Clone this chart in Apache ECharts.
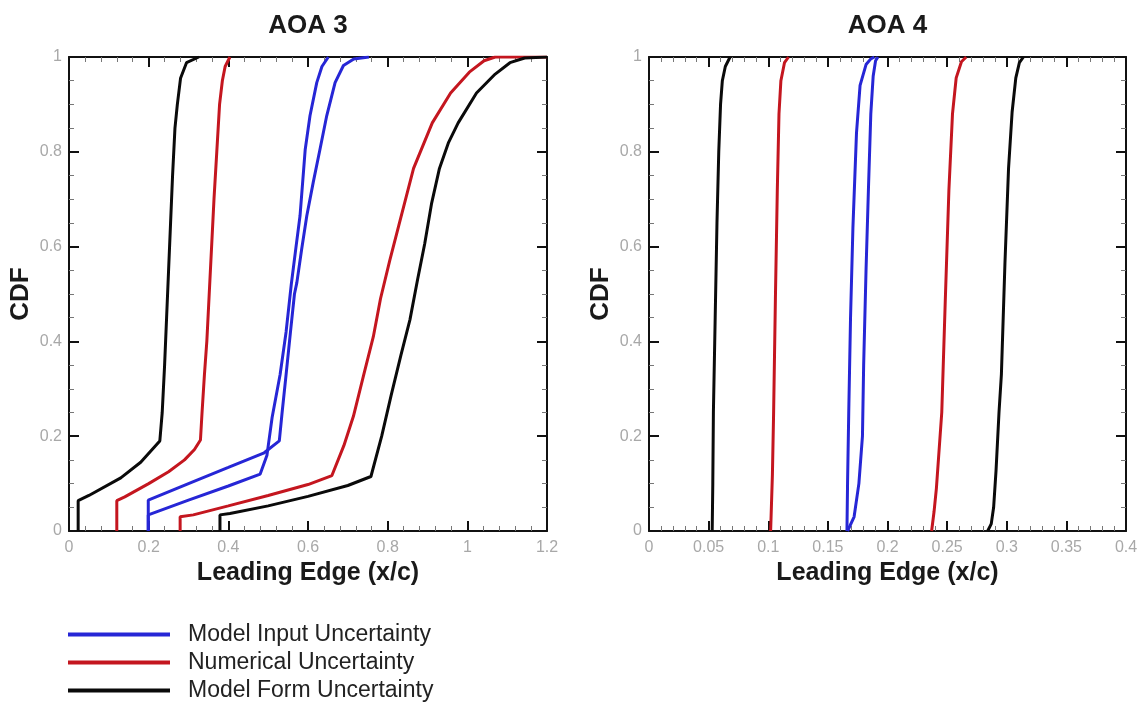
<!DOCTYPE html>
<html>
<head>
<meta charset="utf-8">
<script src="https://cdn.jsdelivr.net/npm/echarts@6/dist/echarts.min.js"></script>
<style>
html,body{margin:0;padding:0;background:#fff;}
#chart{width:1146px;height:704px;}
</style>
</head>
<body>
<div id="chart"></div>
<script>
// ---------- Titles / labels ----------
const panelTitles = ['AOA 3', 'AOA 4'];
const xAxisName = 'Leading Edge (x/c)';
const yAxisName = 'CDF';
const seriesNames = ['Model Input Uncertainty', 'Numerical Uncertainty', 'Model Form Uncertainty'];

// ---------- AOA 3 curves [x/c, CDF] ----------
const aoa3InputA = [[0.199,0],[0.199,0.034],[0.3,0.065],[0.4,0.095],[0.48,0.12],[0.497,0.16],[0.51,0.24],[0.53,0.33],[0.545,0.42],[0.558,0.52],[0.57,0.6],[0.58,0.665],[0.587,0.74],[0.593,0.805],[0.605,0.876],[0.622,0.946],[0.635,0.98],[0.651,1.0]];
const aoa3InputB = [[0.199,0],[0.199,0.065],[0.3,0.1],[0.4,0.134],[0.49,0.165],[0.528,0.19],[0.535,0.25],[0.545,0.33],[0.556,0.42],[0.566,0.5],[0.572,0.524],[0.584,0.594],[0.597,0.665],[0.613,0.735],[0.63,0.805],[0.647,0.876],[0.668,0.946],[0.689,0.982],[0.715,0.996],[0.753,1.0]];
const aoa3NumA = [[0.12,0],[0.12,0.064],[0.14,0.072],[0.2,0.1],[0.25,0.125],[0.29,0.15],[0.315,0.172],[0.33,0.192],[0.334,0.25],[0.34,0.33],[0.346,0.4],[0.352,0.5],[0.358,0.6],[0.364,0.7],[0.371,0.8],[0.378,0.9],[0.385,0.95],[0.392,0.98],[0.404,1.0]];
const aoa3NumB = [[0.279,0],[0.279,0.03],[0.312,0.034],[0.4,0.053],[0.5,0.075],[0.6,0.098],[0.66,0.117],[0.69,0.18],[0.714,0.242],[0.74,0.33],[0.764,0.41],[0.782,0.49],[0.805,0.57],[0.828,0.645],[0.865,0.765],[0.912,0.861],[0.958,0.924],[1.005,0.968],[1.042,0.992],[1.07,1.0],[1.2,1.0]];
const aoa3FormA = [[0.023,0],[0.023,0.064],[0.05,0.075],[0.13,0.112],[0.18,0.145],[0.228,0.19],[0.234,0.25],[0.24,0.35],[0.245,0.45],[0.25,0.55],[0.255,0.65],[0.26,0.75],[0.266,0.85],[0.272,0.9],[0.28,0.955],[0.295,0.988],[0.326,1.0]];
const aoa3FormB = [[0.379,0],[0.379,0.034],[0.404,0.037],[0.5,0.053],[0.6,0.073],[0.7,0.096],[0.758,0.115],[0.785,0.2],[0.809,0.287],[0.833,0.37],[0.856,0.446],[0.875,0.53],[0.893,0.606],[0.91,0.69],[0.93,0.765],[0.953,0.82],[0.977,0.861],[1.023,0.924],[1.07,0.964],[1.107,0.988],[1.144,0.998],[1.2,1.0]];

// ---------- AOA 4 curves [x/c, CDF] ----------
const aoa4InputA = [[0.166,0],[0.1665,0.1],[0.1675,0.25],[0.169,0.45],[0.171,0.64],[0.174,0.84],[0.177,0.94],[0.182,0.984],[0.186,0.996],[0.189,1.0]];
const aoa4InputB = [[0.1665,0],[0.172,0.03],[0.176,0.1],[0.179,0.2],[0.18,0.35],[0.182,0.55],[0.184,0.72],[0.186,0.88],[0.188,0.96],[0.19,0.992],[0.192,1.0]];
const aoa4NumA = [[0.102,0],[0.1035,0.12],[0.1045,0.25],[0.106,0.49],[0.1076,0.72],[0.109,0.88],[0.1106,0.95],[0.1136,0.988],[0.117,1.0]];
const aoa4NumB = [[0.237,0],[0.239,0.04],[0.241,0.09],[0.2455,0.25],[0.2485,0.49],[0.2515,0.72],[0.2545,0.88],[0.2576,0.956],[0.262,0.99],[0.266,1.0]];
const aoa4FormA = [[0.053,0],[0.0535,0.1],[0.054,0.25],[0.0555,0.45],[0.057,0.65],[0.0585,0.8],[0.06,0.9],[0.0615,0.95],[0.064,0.98],[0.068,1.0]];
const aoa4FormB = [[0.284,0],[0.287,0.015],[0.289,0.05],[0.291,0.127],[0.2935,0.25],[0.2955,0.33],[0.2985,0.566],[0.3015,0.765],[0.3045,0.884],[0.3076,0.956],[0.3106,0.988],[0.314,1.0]];

// ---------- Axis ranges ----------
const xRange3 = {min: 0, max: 1.2, interval: 0.2};
const xRange4 = {min: 0, max: 0.4, interval: 0.05};
const yRange = {min: 0, max: 1, interval: 0.2};

const colors = {input: '#2626d6', num: '#c4161f', form: '#0a0a0a'};
const FONT = '"Liberation Sans", Arial, Helvetica, sans-serif';

const chart = echarts.init(document.getElementById('chart'), null, {renderer: 'canvas'});

function xAxisPair(gridIndex, range, title) {
  const common = {
    type: 'value', gridIndex: gridIndex,
    min: range.min, max: range.max, interval: range.interval,
    axisLine: {show: true, onZero: false, lineStyle: {color: '#111', width: 2}},
    axisTick: {show: true, inside: true, length: 10, lineStyle: {color: '#111', width: 2}},
    minorTick: {show: true, splitNumber: 5, length: 5, lineStyle: {color: '#777', width: 1}},
    splitLine: {show: false}, minorSplitLine: {show: false}
  };
  return [
    Object.assign({}, common, {
      position: 'bottom',
      axisLabel: {color: '#a8a8a8', fontSize: 16, fontFamily: FONT, margin: 9},
      name: xAxisName, nameLocation: 'middle', nameGap: 29,
      nameTextStyle: {color: '#1a1a1a', fontSize: 25, fontWeight: 'bold', fontFamily: FONT}
    }),
    Object.assign({}, common, {
      position: 'top',
      axisLabel: {show: false},
      name: title, nameLocation: 'middle', nameGap: 18,
      nameTextStyle: {color: '#1a1a1a', fontSize: 26, fontWeight: 'bold', fontFamily: FONT}
    })
  ];
}
function yAxisPair(gridIndex) {
  const common = {
    type: 'value', gridIndex: gridIndex,
    min: yRange.min, max: yRange.max, interval: yRange.interval,
    axisLine: {show: true, onZero: false, lineStyle: {color: '#111', width: 2}},
    axisTick: {show: true, inside: true, length: 10, lineStyle: {color: '#111', width: 2}},
    minorTick: {show: true, splitNumber: 4, length: 5, lineStyle: {color: '#777', width: 1}},
    splitLine: {show: false}, minorSplitLine: {show: false}
  };
  return [
    Object.assign({}, common, {
      position: 'left',
      axisLabel: {color: '#a8a8a8', fontSize: 16, fontFamily: FONT, margin: 7},
      name: yAxisName, nameLocation: 'middle', nameGap: 35,
      nameTextStyle: {color: '#1a1a1a', fontSize: 26, fontWeight: 'bold', fontFamily: FONT}
    }),
    Object.assign({}, common, {position: 'right', axisLabel: {show: false}})
  ];
}

function line(name, color, data, xi, yi) {
  return {
    type: 'line', name: name, data: data,
    xAxisIndex: xi, yAxisIndex: yi,
    showSymbol: false, symbol: 'none', smooth: false,
    lineStyle: {color: color, width: 3}, itemStyle: {color: color},
    animation: false, silent: true
  };
}

const xAxes = [].concat(xAxisPair(0, xRange3, panelTitles[0]), xAxisPair(1, xRange4, panelTitles[1]));
const yAxes = [].concat(yAxisPair(0), yAxisPair(1));

const option = {
  animation: false,
  backgroundColor: '#ffffff',
  grid: [
    {left: 69, top: 57, width: 478, height: 474, containLabel: false},
    {left: 649, top: 57, width: 477, height: 474, containLabel: false}
  ],
  xAxis: xAxes,
  yAxis: yAxes,
  legend: {
    orient: 'vertical', left: 68, top: 623, padding: 0,
    itemWidth: 102, itemHeight: 4, itemGap: 5, icon: 'rect',
    data: seriesNames,
    textStyle: {color: '#222', fontSize: 23, fontFamily: FONT, padding: [0, 0, 0, 13]}
  },
  series: [
    line(seriesNames[0], colors.input, aoa3InputA, 0, 0),
    line(seriesNames[0], colors.input, aoa3InputB, 0, 0),
    line(seriesNames[1], colors.num, aoa3NumA, 0, 0),
    line(seriesNames[1], colors.num, aoa3NumB, 0, 0),
    line(seriesNames[2], colors.form, aoa3FormA, 0, 0),
    line(seriesNames[2], colors.form, aoa3FormB, 0, 0),
    line(seriesNames[0], colors.input, aoa4InputA, 2, 2),
    line(seriesNames[0], colors.input, aoa4InputB, 2, 2),
    line(seriesNames[1], colors.num, aoa4NumA, 2, 2),
    line(seriesNames[1], colors.num, aoa4NumB, 2, 2),
    line(seriesNames[2], colors.form, aoa4FormA, 2, 2),
    line(seriesNames[2], colors.form, aoa4FormB, 2, 2)
  ]
};
chart.setOption(option);
</script>
</body>
</html>
